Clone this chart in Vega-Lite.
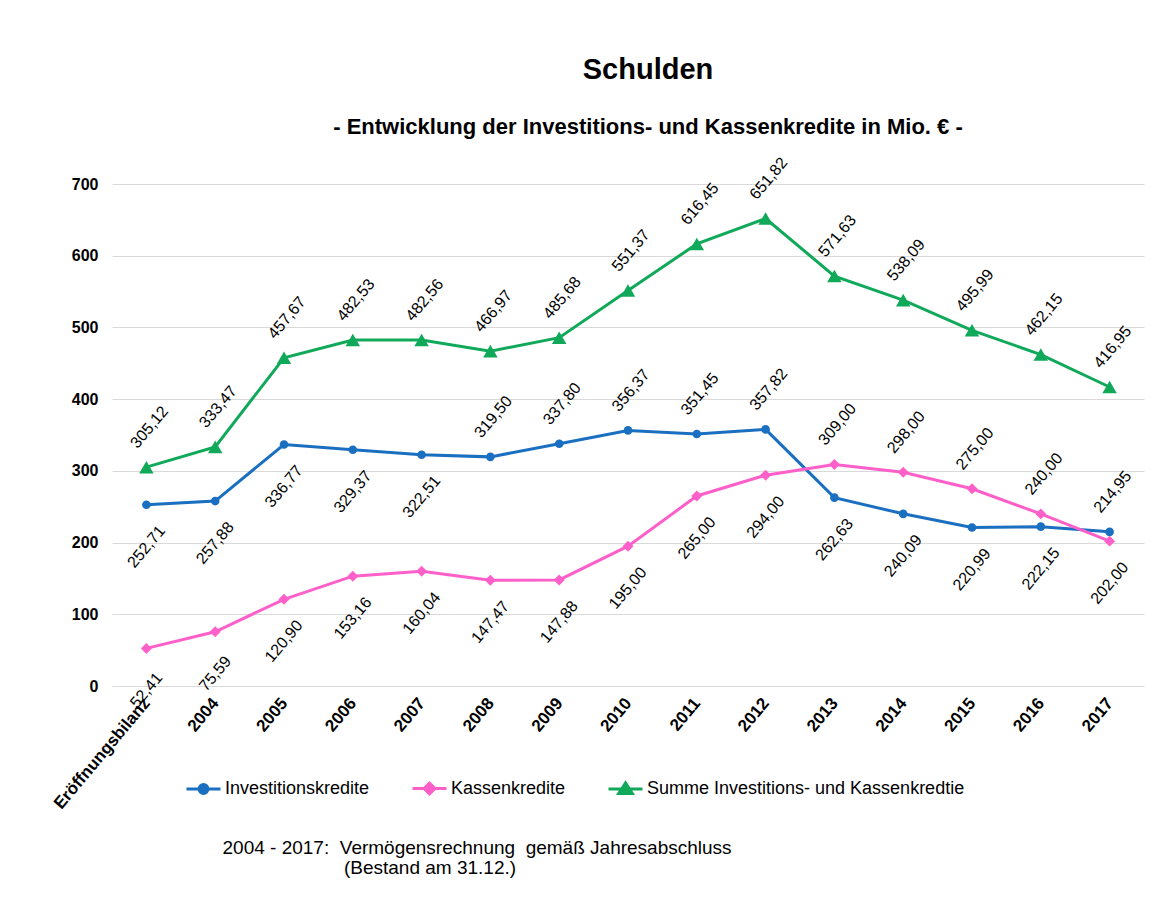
{
  "$schema": "https://vega.github.io/schema/vega-lite/v6.json",
  "autosize": {"type": "none"},
  "width": 1032,
  "height": 502,
  "padding": {"left": 112, "top": 184, "right": 11, "bottom": 213},
  "background": "white",
  "title": {
    "text": "Schulden",
    "subtitle": "- Entwicklung der Investitions- und Kassenkredite in Mio. € -",
    "anchor": "middle",
    "frame": "group",
    "dx": 20,
    "offset": 17,
    "font": "Liberation Sans",
    "fontSize": 29,
    "fontWeight": "bold",
    "color": "black",
    "subtitleFont": "Liberation Sans",
    "subtitleFontSize": 22,
    "subtitleFontWeight": "bold",
    "subtitleColor": "black",
    "subtitlePadding": 32
  },
  "config": {
    "font": "Liberation Sans",
    "view": {"stroke": null},
    "locale": {"number": {"decimal": ",", "thousands": ".", "grouping": [3], "currency": ["", " €"]}}
  },
  "data": {
    "values": [
      {"Jahr": "Eröffnungsbilanz", "Reihe": "Investitionskredite", "Wert": 252.71},
      {"Jahr": "2004", "Reihe": "Investitionskredite", "Wert": 257.88},
      {"Jahr": "2005", "Reihe": "Investitionskredite", "Wert": 336.77},
      {"Jahr": "2006", "Reihe": "Investitionskredite", "Wert": 329.37},
      {"Jahr": "2007", "Reihe": "Investitionskredite", "Wert": 322.51},
      {"Jahr": "2008", "Reihe": "Investitionskredite", "Wert": 319.50},
      {"Jahr": "2009", "Reihe": "Investitionskredite", "Wert": 337.80},
      {"Jahr": "2010", "Reihe": "Investitionskredite", "Wert": 356.37},
      {"Jahr": "2011", "Reihe": "Investitionskredite", "Wert": 351.45},
      {"Jahr": "2012", "Reihe": "Investitionskredite", "Wert": 357.82},
      {"Jahr": "2013", "Reihe": "Investitionskredite", "Wert": 262.63},
      {"Jahr": "2014", "Reihe": "Investitionskredite", "Wert": 240.09},
      {"Jahr": "2015", "Reihe": "Investitionskredite", "Wert": 220.99},
      {"Jahr": "2016", "Reihe": "Investitionskredite", "Wert": 222.15},
      {"Jahr": "2017", "Reihe": "Investitionskredite", "Wert": 214.95},
      {"Jahr": "Eröffnungsbilanz", "Reihe": "Kassenkredite", "Wert": 52.41},
      {"Jahr": "2004", "Reihe": "Kassenkredite", "Wert": 75.59},
      {"Jahr": "2005", "Reihe": "Kassenkredite", "Wert": 120.90},
      {"Jahr": "2006", "Reihe": "Kassenkredite", "Wert": 153.16},
      {"Jahr": "2007", "Reihe": "Kassenkredite", "Wert": 160.04},
      {"Jahr": "2008", "Reihe": "Kassenkredite", "Wert": 147.47},
      {"Jahr": "2009", "Reihe": "Kassenkredite", "Wert": 147.88},
      {"Jahr": "2010", "Reihe": "Kassenkredite", "Wert": 195.00},
      {"Jahr": "2011", "Reihe": "Kassenkredite", "Wert": 265.00},
      {"Jahr": "2012", "Reihe": "Kassenkredite", "Wert": 294.00},
      {"Jahr": "2013", "Reihe": "Kassenkredite", "Wert": 309.00},
      {"Jahr": "2014", "Reihe": "Kassenkredite", "Wert": 298.00},
      {"Jahr": "2015", "Reihe": "Kassenkredite", "Wert": 275.00},
      {"Jahr": "2016", "Reihe": "Kassenkredite", "Wert": 240.00},
      {"Jahr": "2017", "Reihe": "Kassenkredite", "Wert": 202.00},
      {"Jahr": "Eröffnungsbilanz", "Reihe": "Summe Investitions- und Kassenkredtie", "Wert": 305.12},
      {"Jahr": "2004", "Reihe": "Summe Investitions- und Kassenkredtie", "Wert": 333.47},
      {"Jahr": "2005", "Reihe": "Summe Investitions- und Kassenkredtie", "Wert": 457.67},
      {"Jahr": "2006", "Reihe": "Summe Investitions- und Kassenkredtie", "Wert": 482.53},
      {"Jahr": "2007", "Reihe": "Summe Investitions- und Kassenkredtie", "Wert": 482.56},
      {"Jahr": "2008", "Reihe": "Summe Investitions- und Kassenkredtie", "Wert": 466.97},
      {"Jahr": "2009", "Reihe": "Summe Investitions- und Kassenkredtie", "Wert": 485.68},
      {"Jahr": "2010", "Reihe": "Summe Investitions- und Kassenkredtie", "Wert": 551.37},
      {"Jahr": "2011", "Reihe": "Summe Investitions- und Kassenkredtie", "Wert": 616.45},
      {"Jahr": "2012", "Reihe": "Summe Investitions- und Kassenkredtie", "Wert": 651.82},
      {"Jahr": "2013", "Reihe": "Summe Investitions- und Kassenkredtie", "Wert": 571.63},
      {"Jahr": "2014", "Reihe": "Summe Investitions- und Kassenkredtie", "Wert": 538.09},
      {"Jahr": "2015", "Reihe": "Summe Investitions- und Kassenkredtie", "Wert": 495.99},
      {"Jahr": "2016", "Reihe": "Summe Investitions- und Kassenkredtie", "Wert": 462.15},
      {"Jahr": "2017", "Reihe": "Summe Investitions- und Kassenkredtie", "Wert": 416.95}
    ]
  },
  "encoding": {
    "x": {
      "field": "Jahr",
      "type": "ordinal",
      "sort": null,
      "axis": {
        "labelAngle": -50,
        "labelFont": "Liberation Sans",
        "labelFontSize": 17,
        "labelFontWeight": "bold",
        "labelColor": "black",
        "labelPadding": 14,
        "domain": false,
        "ticks": false,
        "grid": false,
        "title": ["2004 - 2017:\u00a0\u00a0Vermögensrechnung\u00a0\u00a0gemäß Jahresabschluss", "\u200b\u00a0\u00a0\u00a0\u00a0\u00a0\u00a0\u00a0\u00a0\u00a0\u00a0\u00a0\u00a0\u00a0\u00a0\u00a0\u00a0\u00a0\u00a0\u00a0\u00a0\u00a0\u00a0\u00a0(Bestand am 31.12.)"],
        "titleFont": "Liberation Sans",
        "titleFontSize": 19,
        "titleFontWeight": "normal",
        "titleColor": "black",
        "titleAnchor": "start",
        "titleAlign": "left",
        "titleBaseline": "top",
        "titleAngle": 0,
        "titleLineHeight": 20,
        "titleX": 110,
        "titleY": 152
      }
    },
    "y": {
      "field": "Wert",
      "type": "quantitative",
      "scale": {"domain": [0, 700], "nice": false},
      "axis": {
        "values": [0, 100, 200, 300, 400, 500, 600, 700],
        "labelFont": "Liberation Sans",
        "labelFontSize": 16,
        "labelFontWeight": "bold",
        "labelColor": "black",
        "labelPadding": 14,
        "domain": false,
        "ticks": false,
        "grid": true,
        "gridColor": "#d9d9d9",
        "gridWidth": 1,
        "title": null
      }
    },
    "color": {
      "field": "Reihe",
      "type": "nominal",
      "scale": {
        "domain": ["Investitionskredite", "Kassenkredite", "Summe Investitions- und Kassenkredtie"],
        "range": ["#1a6fc0", "#ff5fc9", "#10a95a"]
      },
      "legend": {
        "orient": "none",
        "legendX": 73,
        "legendY": 586,
        "direction": "horizontal",
        "columns": 3,
        "title": null,
        "padding": 0,
        "labelFont": "Liberation Sans",
        "labelFontSize": 18,
        "labelColor": "black",
        "labelOffset": 3,
        "labelLimit": 500,
        "columnPadding": 36,
        "symbolSize": 1156,
        "symbolStrokeWidth": 3,
        "encode": {
          "symbols": {
            "update": {
              "shape": {"signal": "datum.value == 'Investitionskredite' ? 'M-1,0L1,0M-0.26,0A0.26,0.26,0,1,0,0.26,0A0.26,0.26,0,1,0,-0.26,0Z' : datum.value == 'Kassenkredite' ? 'M-1,0L1,0M0,-0.32L0.32,0L0,0.32L-0.32,0Z' : 'M-1,0L1,0M0,-0.36L0.4,0.26L-0.4,0.26Z'"},
              "fill": {"signal": "scale('color', datum.value)"},
              "stroke": {"signal": "scale('color', datum.value)"},
              "strokeWidth": {"value": 3},
              "opacity": {"value": 1}
            }
          }
        }
      }
    }
  },
  "layer": [
    {
      "mark": {"type": "line", "strokeWidth": 3}
    },
    {
      "transform": [{"filter": "datum.Reihe == 'Investitionskredite'"}],
      "mark": {"type": "point", "filled": true, "opacity": 1, "shape": "circle", "size": 75}
    },
    {
      "transform": [{"filter": "datum.Reihe == 'Kassenkredite'"}],
      "mark": {"type": "point", "filled": true, "opacity": 1, "shape": "diamond", "size": 120}
    },
    {
      "transform": [{"filter": "datum.Reihe == 'Summe Investitions- und Kassenkredtie'"}],
      "mark": {"type": "point", "filled": true, "opacity": 1, "shape": "triangle-up", "size": 210}
    },
    {
      "transform": [
        {"filter": "datum.Reihe == 'Summe Investitions- und Kassenkredtie' || (datum.Reihe == 'Investitionskredite' && indexof(['2008','2009','2010','2011','2012','2017'], datum.Jahr) >= 0) || (datum.Reihe == 'Kassenkredite' && indexof(['2013','2014','2015','2016'], datum.Jahr) >= 0)"}
      ],
      "mark": {"type": "text", "angle": 310, "fontSize": 16, "font": "Liberation Sans", "align": "center", "baseline": "middle", "yOffset": -40, "xOffset": 3},
      "encoding": {
        "text": {"field": "Wert", "type": "quantitative", "format": ".2f"},
        "color": {"value": "black"}
      }
    },
    {
      "transform": [
        {"filter": "!(datum.Reihe == 'Summe Investitions- und Kassenkredtie' || (datum.Reihe == 'Investitionskredite' && indexof(['2008','2009','2010','2011','2012','2017'], datum.Jahr) >= 0) || (datum.Reihe == 'Kassenkredite' && indexof(['2013','2014','2015','2016'], datum.Jahr) >= 0))"}
      ],
      "mark": {"type": "text", "angle": 310, "fontSize": 16, "font": "Liberation Sans", "align": "center", "baseline": "middle", "yOffset": 42, "xOffset": 0},
      "encoding": {
        "text": {"field": "Wert", "type": "quantitative", "format": ".2f"},
        "color": {"value": "black"}
      }
    }
  ]
}
